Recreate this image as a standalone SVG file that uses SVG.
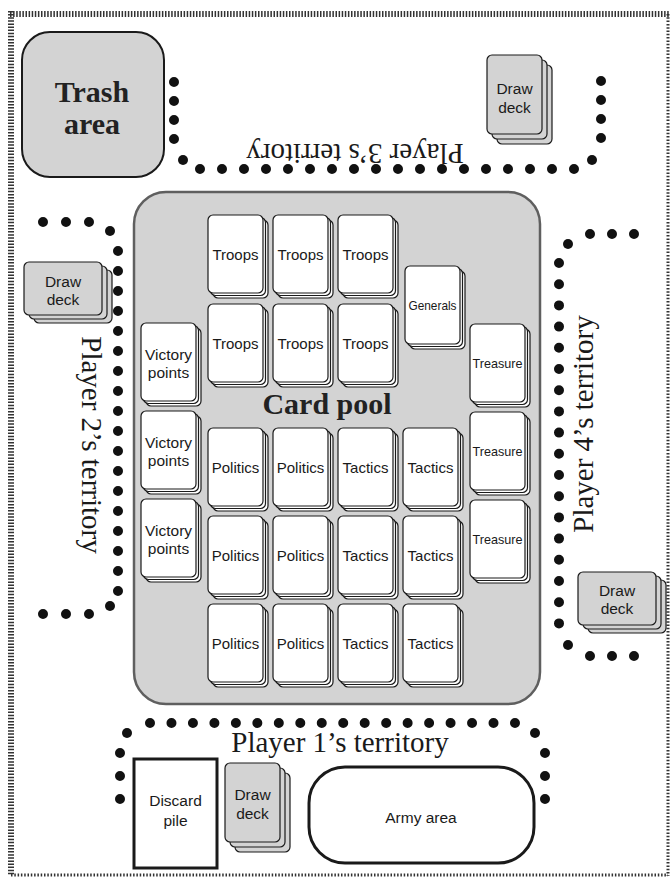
<svg xmlns="http://www.w3.org/2000/svg" xmlns:xlink="http://www.w3.org/1999/xlink" width="670" height="879" viewBox="0 0 670 879">
<style>
.card{fill:#fff;stroke:#1a1a1a;stroke-width:1.2}
.deck{fill:#d3d3d3;stroke:#1a1a1a;stroke-width:1.2}
.lbl{font-family:"Liberation Sans",Arial,sans-serif;font-size:15px;fill:#1a1a1a;text-anchor:middle}
.big{font-size:15.5px}
.cond{font-size:13px}
.terr{font-family:"Liberation Serif","Times New Roman",serif;font-size:29px;fill:#1a1a1a;text-anchor:middle}
.bold{font-family:"Liberation Serif","Times New Roman",serif;font-weight:bold;font-size:30px;fill:#222;text-anchor:middle}
.dots{fill:none;stroke:#111;stroke-width:10;stroke-linecap:round}
.dot{fill:#111}
.frame{fill:none;stroke:#333}
</style>
<defs>
<g id="stack">
<rect class="card" x="5" y="5" width="55" height="78" rx="5"/>
<rect class="card" x="2.5" y="2.5" width="55" height="78" rx="5"/>
<rect class="card" x="0" y="0" width="55" height="78" rx="5"/>
</g>
<g id="deckL">
<rect class="deck" x="10" y="8" width="78" height="53" rx="5"/>
<rect class="deck" x="5" y="4" width="78" height="53" rx="5"/>
<rect class="deck" x="0" y="0" width="78" height="53" rx="5"/>
</g>
<g id="deckP">
<rect class="deck" x="10" y="10" width="55" height="79" rx="5"/>
<rect class="deck" x="5" y="5" width="55" height="79" rx="5"/>
<rect class="deck" x="0" y="0" width="55" height="79" rx="5"/>
</g>
</defs>
<rect width="670" height="879" fill="#fff"/>
<g id="frame">
<line class="frame" x1="10" y1="14" x2="670" y2="14" stroke-width="6" stroke-dasharray="1.5 1.6"/>
<line class="frame" x1="11" y1="11" x2="11" y2="876" stroke-width="6" stroke-dasharray="1.5 1.6"/>
<line class="frame" x1="668" y1="14" x2="668" y2="876" stroke-width="3" stroke-dasharray="1.5 1.8"/>
<line class="frame" x1="11" y1="875" x2="668" y2="875" stroke-width="3" stroke-dasharray="1.5 1.8"/>
</g>
<g id="territory-borders">
<!-- Player 3 -->
<line class="dots" x1="174" y1="82" x2="174" y2="139.5" stroke-dasharray="0 19"/>
<circle class="dot" cx="183" cy="160" r="5"/>
<line class="dots" x1="200" y1="169" x2="574.5" y2="169" stroke-dasharray="0 22"/>
<circle class="dot" cx="592" cy="160" r="5"/>
<line class="dots" x1="601" y1="81" x2="601" y2="138.5" stroke-dasharray="0 19"/>
<!-- Player 2 -->
<line class="dots" x1="43" y1="222" x2="89.5" y2="222" stroke-dasharray="0 23"/>
<circle class="dot" cx="110" cy="231" r="5"/>
<line class="dots" x1="118" y1="251" x2="118" y2="591.5" stroke-dasharray="0 20"/>
<circle class="dot" cx="110" cy="606" r="5"/>
<line class="dots" x1="43" y1="614" x2="89.5" y2="614" stroke-dasharray="0 23"/>
<!-- Player 4 -->
<line class="dots" x1="590" y1="234" x2="634.5" y2="234" stroke-dasharray="0 22"/>
<circle class="dot" cx="568" cy="244" r="5"/>
<line class="dots" x1="559" y1="263" x2="559" y2="624" stroke-dasharray="0 21.2"/>
<circle class="dot" cx="568" cy="645" r="5"/>
<line class="dots" x1="590" y1="656" x2="634.5" y2="656" stroke-dasharray="0 22"/>
<!-- Player 1 -->
<line class="dots" x1="150" y1="723" x2="515.5" y2="723" stroke-dasharray="0 21.47"/>
<circle class="dot" cx="127" cy="733" r="5"/>
<circle class="dot" cx="535" cy="733" r="5"/>
<line class="dots" x1="120" y1="753" x2="120" y2="799.5" stroke-dasharray="0 23"/>
<line class="dots" x1="545" y1="753" x2="545" y2="799.5" stroke-dasharray="0 23"/>
</g>
<g id="territory-labels">
<text class="terr" x="340" y="752">Player 1’s territory</text>
<text class="terr" transform="translate(82,445) rotate(90)">Player 2’s territory</text>
<text class="terr" transform="translate(355,144) rotate(180)">Player 3’s territory</text>
<text class="terr" transform="translate(593,424) rotate(-90)">Player 4’s territory</text>
</g>
<g id="trash-area">
<rect x="22" y="32" width="142" height="145" rx="28" fill="#d3d3d3" stroke="#1a1a1a" stroke-width="2"/>
<text class="bold" x="92" y="102">Trash</text>
<text class="bold" x="92" y="134">area</text>
</g>
<g id="card-pool">
<rect x="134" y="192" width="406" height="512" rx="32" fill="#d3d3d3" stroke="#5f5f5f" stroke-width="2.5"/>
<text class="bold" x="327" y="414">Card pool</text>
</g>
<g id="troops-1"><use xlink:href="#stack" x="208" y="215"/><text class="lbl" x="235.5" y="260">Troops</text></g>
<g id="troops-2"><use xlink:href="#stack" x="273" y="215"/><text class="lbl" x="300.5" y="260">Troops</text></g>
<g id="troops-3"><use xlink:href="#stack" x="338" y="215"/><text class="lbl" x="365.5" y="260">Troops</text></g>
<g id="troops-4"><use xlink:href="#stack" x="208" y="304"/><text class="lbl" x="235.5" y="349">Troops</text></g>
<g id="troops-5"><use xlink:href="#stack" x="273" y="304"/><text class="lbl" x="300.5" y="349">Troops</text></g>
<g id="troops-6"><use xlink:href="#stack" x="338" y="304"/><text class="lbl" x="365.5" y="349">Troops</text></g>
<g id="generals"><use xlink:href="#stack" x="405" y="266"/><text class="lbl cond" x="432.5" y="310" textLength="48" lengthAdjust="spacingAndGlyphs">Generals</text></g>
<g id="treasure-1"><use xlink:href="#stack" x="470" y="324"/><text class="lbl cond" x="497.5" y="368" textLength="50" lengthAdjust="spacingAndGlyphs">Treasure</text></g>
<g id="treasure-2"><use xlink:href="#stack" x="470" y="412"/><text class="lbl cond" x="497.5" y="456" textLength="50" lengthAdjust="spacingAndGlyphs">Treasure</text></g>
<g id="treasure-3"><use xlink:href="#stack" x="470" y="500"/><text class="lbl cond" x="497.5" y="544" textLength="50" lengthAdjust="spacingAndGlyphs">Treasure</text></g>
<g id="victory-1"><use xlink:href="#stack" x="141" y="323"/><text class="lbl big" x="168.5" y="360">Victory</text><text class="lbl big" x="168.5" y="378">points</text></g>
<g id="victory-2"><use xlink:href="#stack" x="141" y="411"/><text class="lbl big" x="168.5" y="448">Victory</text><text class="lbl big" x="168.5" y="466">points</text></g>
<g id="victory-3"><use xlink:href="#stack" x="141" y="499"/><text class="lbl big" x="168.5" y="536">Victory</text><text class="lbl big" x="168.5" y="554">points</text></g>
<g id="politics-1"><use xlink:href="#stack" x="208" y="428"/><text class="lbl" x="235.5" y="473">Politics</text></g>
<g id="politics-2"><use xlink:href="#stack" x="273" y="428"/><text class="lbl" x="300.5" y="473">Politics</text></g>
<g id="tactics-1"><use xlink:href="#stack" x="338" y="428"/><text class="lbl" x="365.5" y="473">Tactics</text></g>
<g id="tactics-2"><use xlink:href="#stack" x="403" y="428"/><text class="lbl" x="430.5" y="473">Tactics</text></g>
<g id="politics-3"><use xlink:href="#stack" x="208" y="516"/><text class="lbl" x="235.5" y="561">Politics</text></g>
<g id="politics-4"><use xlink:href="#stack" x="273" y="516"/><text class="lbl" x="300.5" y="561">Politics</text></g>
<g id="tactics-3"><use xlink:href="#stack" x="338" y="516"/><text class="lbl" x="365.5" y="561">Tactics</text></g>
<g id="tactics-4"><use xlink:href="#stack" x="403" y="516"/><text class="lbl" x="430.5" y="561">Tactics</text></g>
<g id="politics-5"><use xlink:href="#stack" x="208" y="604"/><text class="lbl" x="235.5" y="649">Politics</text></g>
<g id="politics-6"><use xlink:href="#stack" x="273" y="604"/><text class="lbl" x="300.5" y="649">Politics</text></g>
<g id="tactics-5"><use xlink:href="#stack" x="338" y="604"/><text class="lbl" x="365.5" y="649">Tactics</text></g>
<g id="tactics-6"><use xlink:href="#stack" x="403" y="604"/><text class="lbl" x="430.5" y="649">Tactics</text></g>
<g id="draw-deck-p2"><use xlink:href="#deckL" x="24" y="262"/><text class="lbl big" x="63" y="287">Draw</text><text class="lbl big" x="63" y="305">deck</text></g>
<g id="draw-deck-p3"><use xlink:href="#deckP" x="487" y="55"/><text class="lbl big" x="514.5" y="94">Draw</text><text class="lbl big" x="514.5" y="113">deck</text></g>
<g id="draw-deck-p4"><use xlink:href="#deckL" x="578" y="572"/><text class="lbl big" x="617" y="596">Draw</text><text class="lbl big" x="617" y="614">deck</text></g>
<g id="draw-deck-p1"><use xlink:href="#deckP" x="225" y="763"/><text class="lbl big" x="252.5" y="800">Draw</text><text class="lbl big" x="252.5" y="819">deck</text></g>
<g id="discard-pile">
<rect x="134" y="759" width="83" height="109" fill="#fff" stroke="#1a1a1a" stroke-width="3"/>
<text class="lbl big" x="175.5" y="806">Discard</text>
<text class="lbl big" x="175.5" y="826">pile</text>
</g>
<g id="army-area">
<rect x="309" y="767" width="225" height="96" rx="36" fill="#fff" stroke="#1a1a1a" stroke-width="3"/>
<text class="lbl big" x="421" y="823">Army area</text>
</g>
</svg>
